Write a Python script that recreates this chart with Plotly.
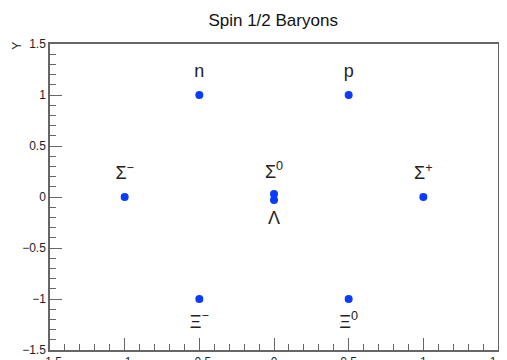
import plotly.graph_objects as go

# Data
particles = ["n", "p", "Σ⁻", "Σ⁰", "Λ", "Σ⁺", "Ξ⁻", "Ξ⁰"]
px = [-0.5, 0.5, -1.0, 0.0, 0.0, 1.0, -0.5, 0.5]
py = [1.0, 1.0, 0.0, 0.03, -0.03, 0.0, -1.0, -1.0]

label_text = ["n", "p", "Σ<sup>−</sup>", "Σ<sup>0</sup>", "Λ", "Σ<sup>+</sup>", "Ξ<sup>−</sup>", "Ξ<sup>0</sup>"]
label_x = [-0.5, 0.5, -1.0, 0.0, 0.0, 1.0, -0.5, 0.5]
label_y = [1.22, 1.22, 0.22, 0.23, -0.22, 0.22, -1.24, -1.24]

tickvals = [-1.5, -1, -0.5, 0, 0.5, 1, 1.5]
ticktext = ["−1.5", "−1", "−0.5", "0", "0.5", "1", "1.5"]

fig = go.Figure()
fig.add_trace(go.Scatter(x=px, y=py, mode="markers",
                         marker=dict(color="#0a3cff", size=8),
                         hovertext=particles, showlegend=False))
fig.add_trace(go.Scatter(x=label_x, y=label_y, mode="text", text=label_text,
                         textfont=dict(size=18, color="#222222", family="Liberation Sans"),
                         showlegend=False, hoverinfo="skip"))

axis_common = dict(range=[-1.5, 1.5], showgrid=False, zeroline=False, automargin=False,
                   showline=True, linecolor="#666666", linewidth=1.5, mirror=True,
                   ticks="inside", ticklen=12, tickcolor="#666666", tickwidth=1.2,
                   tickvals=tickvals, ticktext=ticktext,
                   tickfont=dict(size=12, color="#222222", family="Liberation Sans"),
                   minor=dict(dtick=0.1, tick0=0, ticks="inside", ticklen=6,
                              tickcolor="#666666", tickwidth=1.2))

# the page body adds an 8px offset, margins compensate for it
fig.update_layout(
    width=507, height=360,
    margin=dict(l=42, r=17, t=36, b=18),
    paper_bgcolor="white", plot_bgcolor="white",
    title=dict(text="Spin 1/2 Baryons", x=0.523, xanchor="center", y=0.967, yanchor="middle",
               font=dict(size=17, color="#111111", family="Liberation Sans")),
    xaxis=dict(axis_common),
    yaxis=dict(axis_common),
)
fig.add_annotation(text="Y", xref="paper", yref="paper", x=-0.074, y=1.013,
                   textangle=-90, showarrow=False, xanchor="center", yanchor="top",
                   font=dict(size=12, color="#222222", family="Liberation Sans"))

fig.write_html("out.html")
